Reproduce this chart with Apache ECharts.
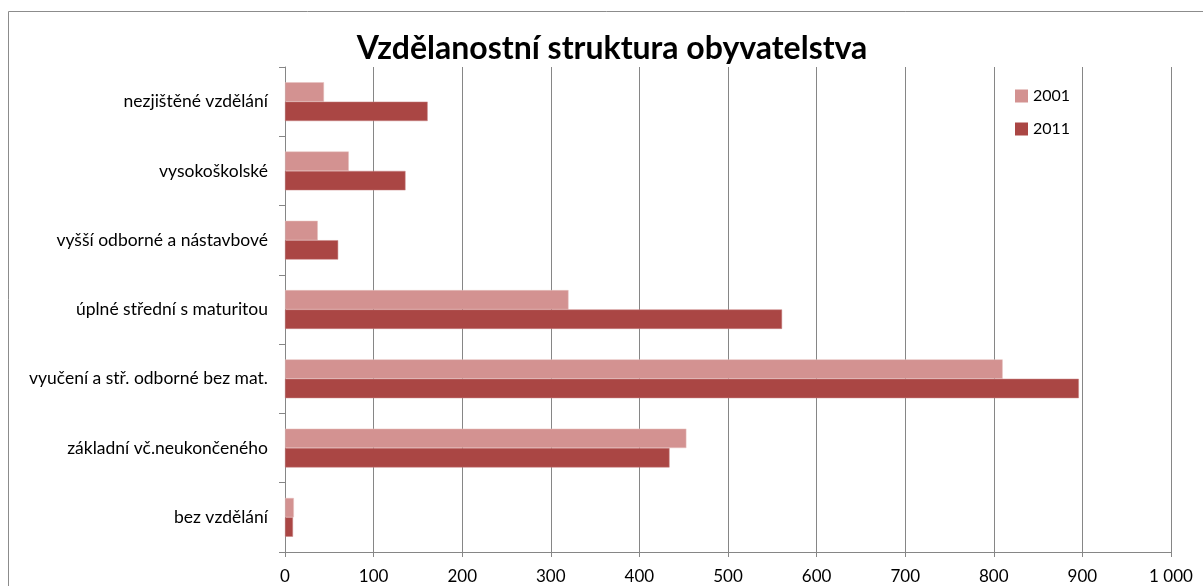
<!DOCTYPE html>
<html>
<head>
<meta charset="utf-8">
<script src="https://cdn.jsdelivr.net/npm/echarts@6/dist/echarts.min.js"></script>
<style>
  html, body { margin: 0; padding: 0; background: #fff; }
  #chart { width: 1203px; height: 586px; }
</style>
</head>
<body>
<div id="chart"></div>
<script>
// kategorie odspodu nahoru (yAxis category)
var categories = ['bez vzdělání', 'základní vč.neukončeného', 'vyučení a stř. odborné bez mat.',
  'úplné střední s maturitou', 'vyšší odborné a nástavbové', 'vysokoškolské', 'nezjištěné vzdělání']
var values2001 = [10, 453, 810, 320, 37, 72, 44]
var values2011 = [9, 434, 896, 561, 60, 136, 161]
var xTicks = { min: 0, max: 1000, interval: 100 }

var myChart = echarts.init(document.getElementById('chart'))
var font = 'Lato, "Open Sans", sans-serif'

var option = {
  animation: false,
  title: {
    text: 'Vzdělanostní struktura obyvatelstva',
    left: 607,
    top: 28,
    textAlign: 'center',
    textStyle: { fontFamily: font, fontWeight: 'bold', fontSize: 32, color: '#000' }
  },
  legend: {
    orient: 'vertical',
    left: 1010,
    top: 83,
    itemWidth: 13,
    itemHeight: 13,
    itemGap: 17,
    icon: 'rect',
    data: ['2001', '2011'],
    itemStyle: { borderWidth: 0 },
    textStyle: { fontFamily: font, fontSize: 16, color: '#000' }
  },
  graphic: [{
    type: 'rect',
    shape: { x: 8.5, y: 11.5, width: 1400, height: 800 },
    style: { fill: 'none', stroke: '#8c8c8c', lineWidth: 1 },
    silent: true
  }],
  grid: { left: 285, right: 32, top: 67, bottom: 34 },
  xAxis: {
    type: 'value',
    min: xTicks.min,
    max: xTicks.max,
    interval: xTicks.interval,
    axisLine: { show: true, lineStyle: { color: '#868686' } },
    axisTick: { show: true, length: 5, lineStyle: { color: '#868686' } },
    splitLine: { show: true, lineStyle: { color: '#868686' } },
    axisLabel: {
      margin: 16,
      fontFamily: font, fontSize: 17, color: '#000',
      formatter: function (v) { return v >= 1000 ? String(v).replace(/(\d)(\d{3})$/, '$1 $2') : String(v) }
    }
  },
  yAxis: {
    type: 'category',
    data: categories,
    axisLine: { show: true, lineStyle: { color: '#868686' } },
    axisTick: { show: true, length: 6, lineStyle: { color: '#868686' } },
    axisLabel: { margin: 17, fontFamily: font, fontSize: 17.5, color: '#000' }
  },
  series: [
    {
      name: '2001',
      type: 'bar',
      data: values2001,
      barGap: '0%',
      barCategoryGap: '44%',
      itemStyle: { color: '#d39291', borderColor: '#e6c0bf', borderWidth: 0.5 }
    },
    {
      name: '2011',
      type: 'bar',
      data: values2011,
      barGap: '0%',
      barCategoryGap: '44%',
      itemStyle: { color: '#aa4644', borderColor: '#c98584', borderWidth: 0.5 }
    }
  ]
}
myChart.setOption(option)
</script>
</body>
</html>
